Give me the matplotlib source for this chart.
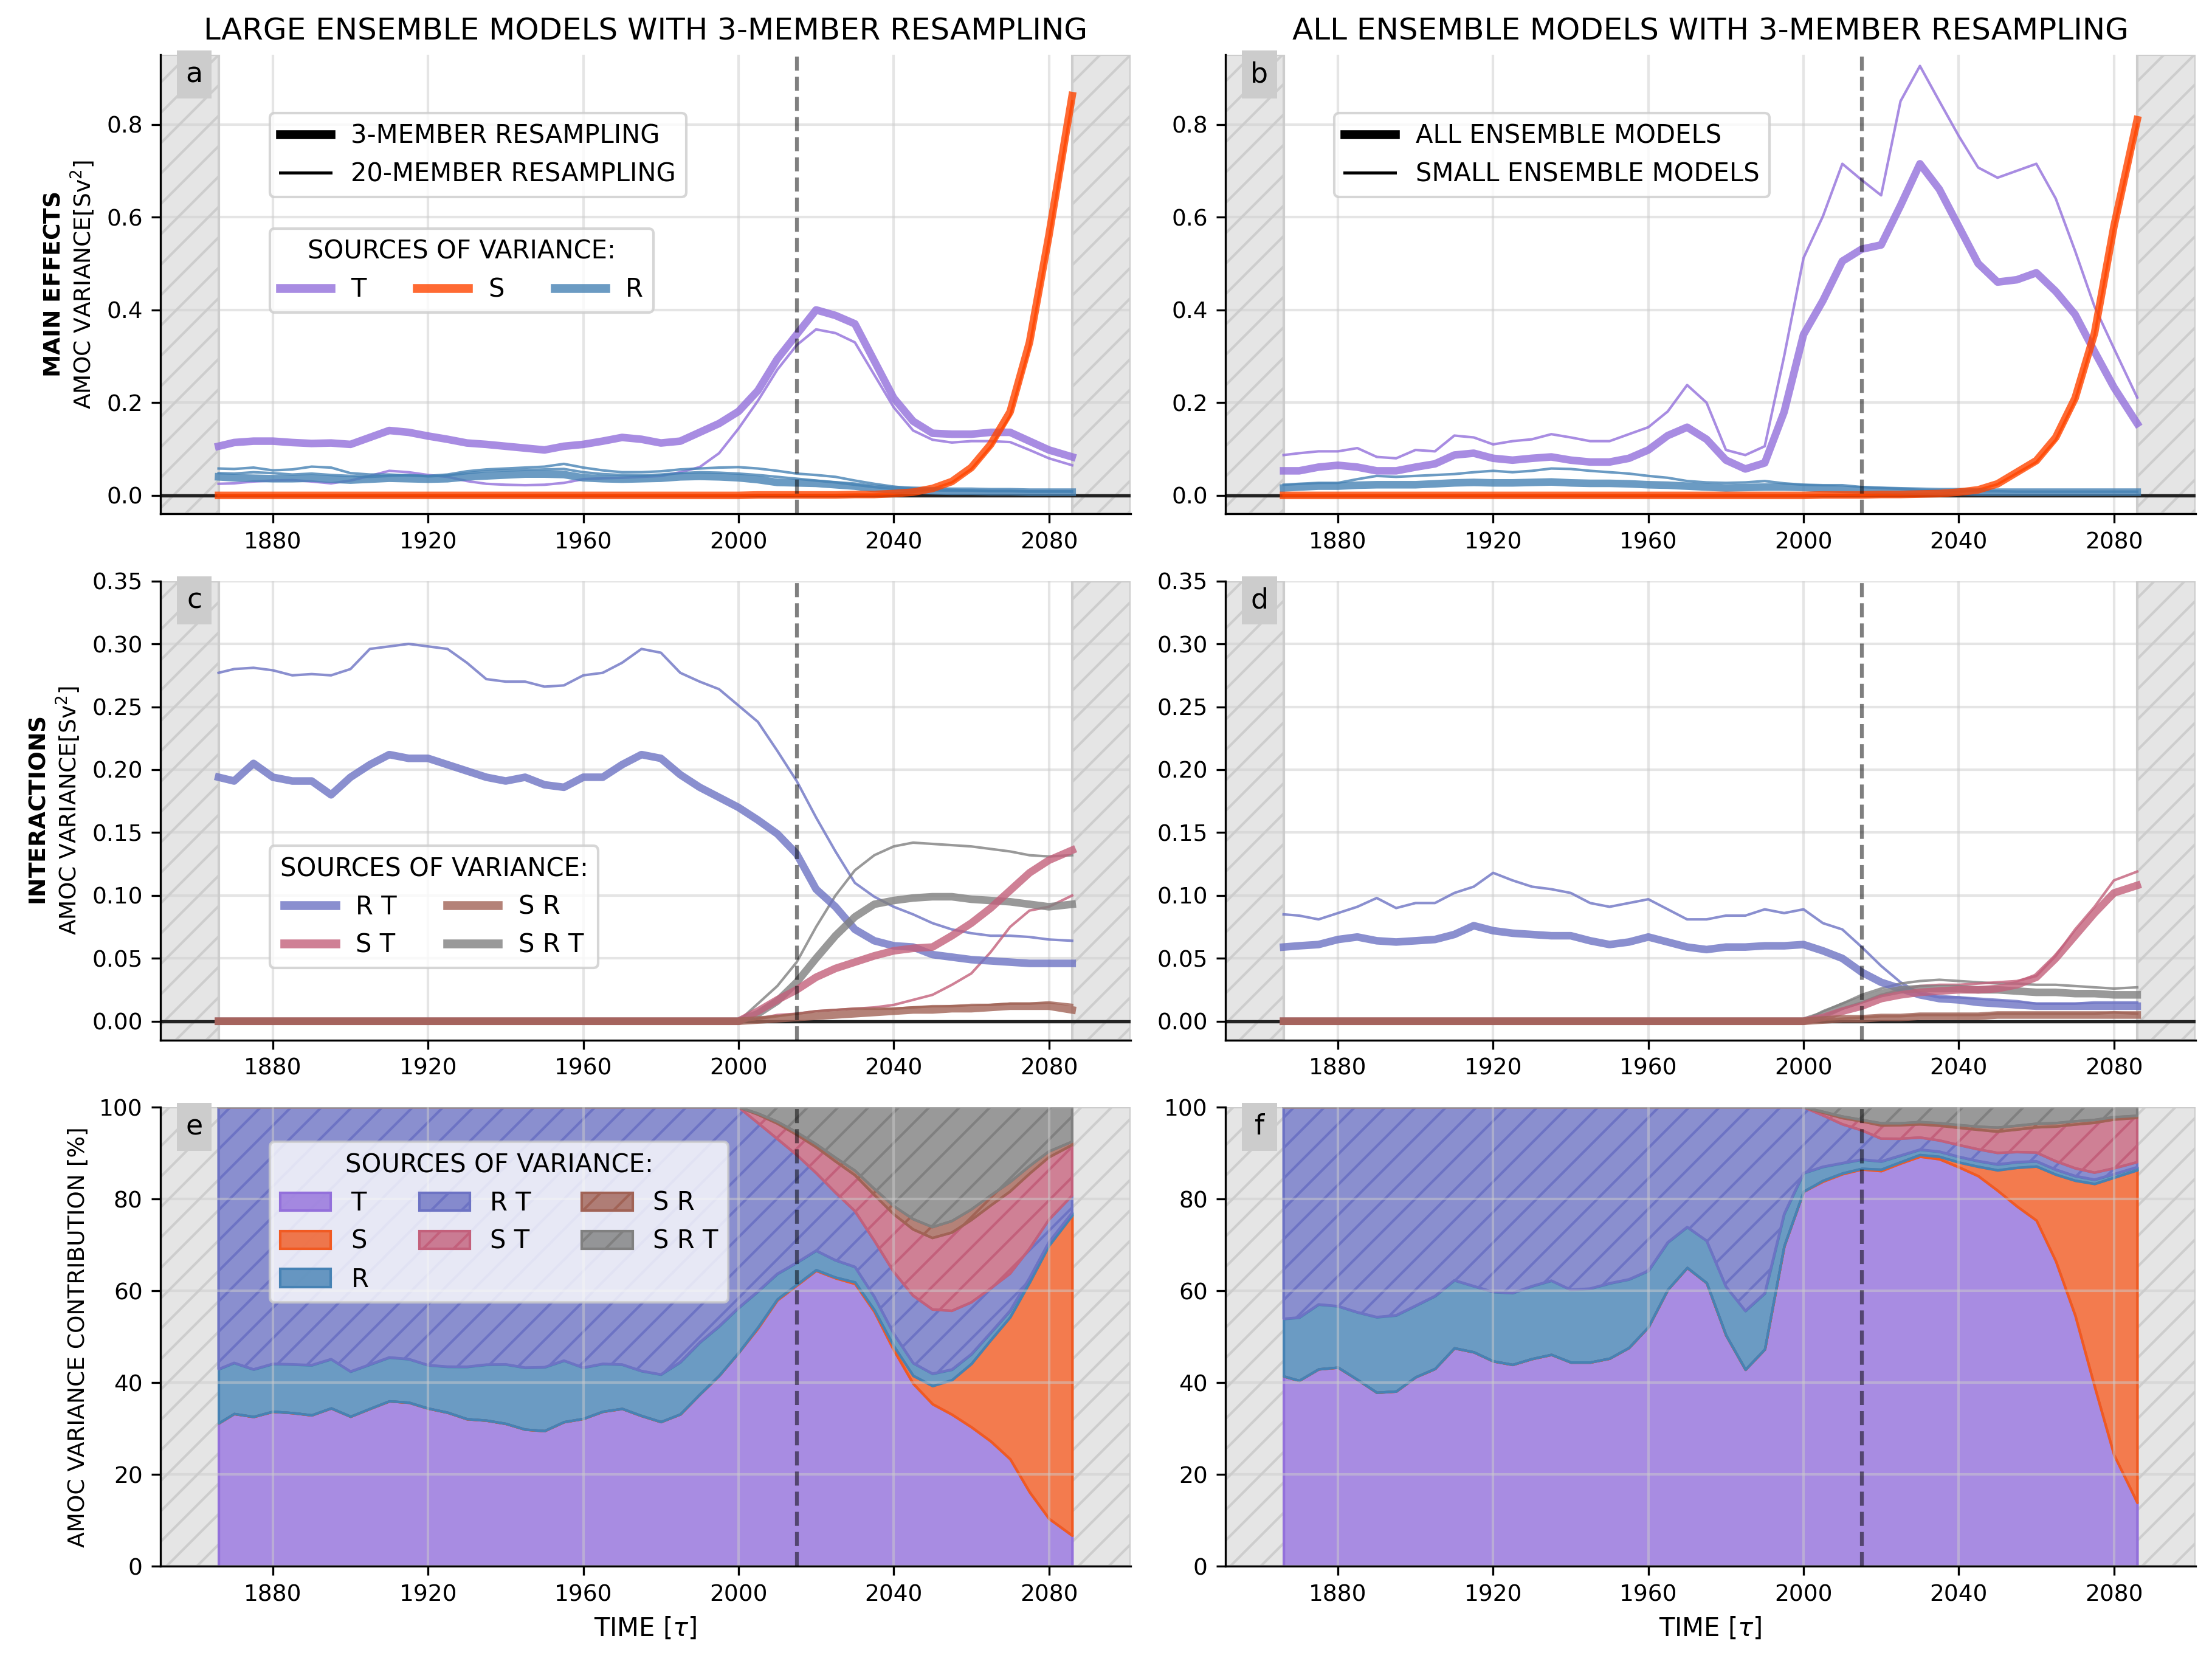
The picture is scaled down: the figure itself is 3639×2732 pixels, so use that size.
import numpy as np
import matplotlib.pyplot as plt
from matplotlib.colors import to_rgba
from matplotlib.lines import Line2D
from matplotlib.patches import Rectangle

# years (5-yr reading grid)
years = np.array([1866, 1870, 1875, 1880, 1885, 1890, 1895, 1900, 1905, 1910,
                  1915, 1920, 1925, 1930, 1935, 1940, 1945, 1950, 1955, 1960,
                  1965, 1970, 1975, 1980, 1985, 1990, 1995, 2000, 2005, 2010,
                  2015, 2020, 2025, 2030, 2035, 2040, 2045, 2050, 2055, 2060,
                  2065, 2070, 2075, 2080, 2086])

# ---- panel a : large ensembles, main effects (3-member thick / 20-member thin)
t_a3 = [0.106, 0.114, 0.117, 0.117, 0.114, 0.112, 0.113, 0.110, 0.125, 0.140,
        0.136, 0.128, 0.121, 0.113, 0.110, 0.106, 0.102, 0.098, 0.106, 0.110,
        0.117, 0.125, 0.121, 0.113, 0.117, 0.136, 0.155, 0.181, 0.226, 0.294,
        0.347, 0.400, 0.388, 0.370, 0.290, 0.210, 0.160, 0.134, 0.132, 0.132,
        0.136, 0.136, 0.117, 0.098, 0.083]
t_a20 = [0.025, 0.026, 0.030, 0.032, 0.033, 0.030, 0.026, 0.032, 0.042, 0.053,
         0.050, 0.044, 0.040, 0.031, 0.025, 0.023, 0.022, 0.023, 0.027, 0.035,
         0.037, 0.038, 0.040, 0.042, 0.050, 0.061, 0.091, 0.144, 0.204, 0.271,
         0.324, 0.358, 0.350, 0.330, 0.260, 0.190, 0.140, 0.120, 0.114, 0.117,
         0.117, 0.115, 0.098, 0.080, 0.065]
s_a3 = [0.0] * 28 + [0.001, 0.001, 0.001, 0.001, 0.001, 0.002, 0.002, 0.004, 0.007,
                     0.015, 0.030, 0.060, 0.110, 0.180, 0.330, 0.560, 0.862]
s_a20 = [0.0] * 28 + [0.001, 0.001, 0.001, 0.001, 0.001, 0.002, 0.002, 0.004, 0.007,
                      0.014, 0.028, 0.057, 0.105, 0.172, 0.320, 0.550, 0.850]
r_a3 = [0.040, 0.038, 0.037, 0.036, 0.036, 0.037, 0.035, 0.033, 0.035, 0.037,
        0.036, 0.035, 0.036, 0.040, 0.042, 0.044, 0.046, 0.046, 0.045, 0.038,
        0.036, 0.035, 0.036, 0.037, 0.040, 0.041, 0.040, 0.038, 0.034, 0.028,
        0.027, 0.026, 0.023, 0.020, 0.015, 0.012, 0.011, 0.010, 0.009, 0.009,
        0.008, 0.008, 0.007, 0.007, 0.007]
r_a20 = [0.058, 0.057, 0.060, 0.054, 0.056, 0.062, 0.060, 0.048, 0.045, 0.045,
         0.043, 0.042, 0.045, 0.052, 0.056, 0.058, 0.060, 0.062, 0.068, 0.060,
         0.054, 0.050, 0.050, 0.052, 0.056, 0.058, 0.060, 0.061, 0.058, 0.053,
         0.047, 0.044, 0.040, 0.032, 0.025, 0.019, 0.015, 0.013, 0.012, 0.011,
         0.010, 0.010, 0.009, 0.009, 0.009]
r_a20b = [0.048, 0.047, 0.050, 0.048, 0.045, 0.047, 0.044, 0.042, 0.040, 0.042,
          0.044, 0.041, 0.043, 0.048, 0.052, 0.054, 0.055, 0.056, 0.057, 0.050,
          0.046, 0.044, 0.043, 0.045, 0.048, 0.050, 0.049, 0.047, 0.044, 0.040,
          0.036, 0.032, 0.028, 0.023, 0.018, 0.014, 0.012, 0.011, 0.010, 0.010,
          0.009, 0.009, 0.008, 0.008, 0.008]

# ---- panel b : all ensembles (thick) vs small ensembles (thin)
t_b_all = [0.053, 0.053, 0.061, 0.065, 0.061, 0.053, 0.053, 0.061, 0.068, 0.087,
           0.091, 0.080, 0.076, 0.080, 0.083, 0.076, 0.072, 0.072, 0.080, 0.098,
           0.129, 0.147, 0.121, 0.076, 0.057, 0.070, 0.180, 0.347, 0.420, 0.505,
           0.531, 0.540, 0.625, 0.715, 0.660, 0.580, 0.500, 0.460, 0.465, 0.480,
           0.440, 0.390, 0.310, 0.233, 0.155]
t_b_small = [0.087, 0.091, 0.095, 0.095, 0.102, 0.083, 0.080, 0.098, 0.095, 0.129,
             0.125, 0.110, 0.117, 0.121, 0.132, 0.125, 0.117, 0.117, 0.132, 0.147,
             0.181, 0.238, 0.200, 0.098, 0.087, 0.106, 0.300, 0.512, 0.602, 0.715,
             0.680, 0.647, 0.850, 0.926, 0.850, 0.775, 0.707, 0.685, 0.700, 0.715,
             0.640, 0.527, 0.407, 0.317, 0.211]
s_b_all = [0.0] * 28 + [0.001, 0.001, 0.001, 0.002, 0.002, 0.003, 0.004, 0.007, 0.012,
                        0.025, 0.050, 0.075, 0.125, 0.210, 0.350, 0.580, 0.810]
s_b_small = [0.0] * 28 + [0.001, 0.001, 0.001, 0.002, 0.002, 0.003, 0.004, 0.007, 0.012,
                          0.024, 0.048, 0.072, 0.120, 0.205, 0.345, 0.575, 0.800]
r_b_all = [0.016, 0.018, 0.020, 0.020, 0.022, 0.023, 0.023, 0.023, 0.025, 0.027,
           0.028, 0.027, 0.027, 0.028, 0.029, 0.027, 0.026, 0.026, 0.025, 0.023,
           0.022, 0.020, 0.018, 0.016, 0.017, 0.018, 0.018, 0.017, 0.015, 0.013,
           0.012, 0.011, 0.010, 0.009, 0.008, 0.008, 0.007, 0.007, 0.007, 0.007,
           0.007, 0.007, 0.007, 0.007, 0.007]
r_b_small = [0.023, 0.025, 0.027, 0.027, 0.035, 0.042, 0.040, 0.042, 0.044, 0.046,
             0.050, 0.053, 0.050, 0.053, 0.058, 0.057, 0.053, 0.050, 0.047, 0.042,
             0.038, 0.031, 0.028, 0.027, 0.028, 0.031, 0.026, 0.023, 0.022, 0.022,
             0.018, 0.016, 0.014, 0.012, 0.011, 0.010, 0.009, 0.009, 0.008, 0.008,
             0.008, 0.008, 0.008, 0.008, 0.008]

# ---- panel c : large ensembles, interactions
rt_c3 = [0.194, 0.191, 0.205, 0.194, 0.191, 0.191, 0.180, 0.194, 0.204, 0.212,
         0.209, 0.209, 0.204, 0.199, 0.194, 0.191, 0.194, 0.188, 0.186, 0.194,
         0.194, 0.204, 0.212, 0.209, 0.196, 0.186, 0.178, 0.170, 0.160, 0.149,
         0.133, 0.105, 0.091, 0.073, 0.064, 0.060, 0.059, 0.053, 0.051, 0.049,
         0.048, 0.047, 0.046, 0.046, 0.046]
rt_c20 = [0.277, 0.280, 0.281, 0.279, 0.275, 0.276, 0.275, 0.280, 0.296, 0.298,
          0.300, 0.298, 0.296, 0.285, 0.272, 0.270, 0.270, 0.266, 0.267, 0.275,
          0.277, 0.285, 0.296, 0.293, 0.277, 0.270, 0.264, 0.251, 0.238, 0.215,
          0.191, 0.162, 0.135, 0.110, 0.099, 0.091, 0.085, 0.078, 0.073, 0.070,
          0.068, 0.068, 0.067, 0.065, 0.064]
st_c3 = [0.0] * 28 + [0.008, 0.017, 0.025, 0.035, 0.042, 0.047, 0.052, 0.056, 0.058,
                      0.059, 0.068, 0.078, 0.090, 0.104, 0.118, 0.128, 0.136]
st_c20 = [0.0] * 28 + [0.002, 0.005, 0.006, 0.008, 0.009, 0.010, 0.011, 0.013, 0.017,
                       0.021, 0.029, 0.038, 0.055, 0.075, 0.088, 0.091, 0.100]
sr_c3 = [0.0] * 28 + [0.001, 0.002, 0.003, 0.004, 0.005, 0.006, 0.007, 0.008, 0.009,
                      0.009, 0.010, 0.010, 0.011, 0.012, 0.012, 0.012, 0.009]
sr_c20 = [0.0] * 28 + [0.002, 0.004, 0.006, 0.008, 0.009, 0.010, 0.010, 0.010, 0.011,
                       0.012, 0.012, 0.013, 0.013, 0.014, 0.014, 0.015, 0.013]
srt_c3 = [0.0] * 28 + [0.006, 0.016, 0.031, 0.050, 0.068, 0.083, 0.093, 0.096, 0.098,
                       0.099, 0.099, 0.097, 0.096, 0.095, 0.093, 0.091, 0.093]
srt_c20 = [0.0] * 28 + [0.014, 0.028, 0.047, 0.075, 0.100, 0.120, 0.132, 0.139, 0.142,
                        0.141, 0.140, 0.139, 0.137, 0.135, 0.132, 0.131, 0.132]

# ---- panel d : all ensembles, interactions
rt_d_all = [0.059, 0.060, 0.061, 0.065, 0.067, 0.064, 0.063, 0.064, 0.065, 0.069,
            0.076, 0.072, 0.070, 0.069, 0.068, 0.068, 0.064, 0.061, 0.063, 0.067,
            0.063, 0.059, 0.057, 0.059, 0.059, 0.060, 0.060, 0.061, 0.056, 0.050,
            0.039, 0.031, 0.026, 0.021, 0.018, 0.017, 0.015, 0.014, 0.013, 0.012,
            0.012, 0.012, 0.012, 0.012, 0.012]
rt_d_small = [0.085, 0.084, 0.081, 0.086, 0.091, 0.098, 0.090, 0.094, 0.094, 0.102,
              0.107, 0.118, 0.112, 0.107, 0.105, 0.102, 0.094, 0.091, 0.094, 0.097,
              0.089, 0.081, 0.081, 0.084, 0.084, 0.089, 0.086, 0.089, 0.078, 0.073,
              0.059, 0.044, 0.031, 0.022, 0.019, 0.019, 0.018, 0.017, 0.016, 0.014,
              0.014, 0.014, 0.015, 0.015, 0.015]
st_d_all = [0.0] * 28 + [0.003, 0.008, 0.012, 0.018, 0.021, 0.023, 0.024, 0.025, 0.025,
                         0.026, 0.029, 0.035, 0.050, 0.068, 0.086, 0.102, 0.108]
st_d_small = [0.0] * 28 + [0.004, 0.010, 0.015, 0.021, 0.025, 0.028, 0.029, 0.029, 0.030,
                           0.031, 0.032, 0.036, 0.052, 0.073, 0.091, 0.112, 0.119]
sr_d_all = [0.0] * 28 + [0.001, 0.002, 0.002, 0.003, 0.003, 0.004, 0.004, 0.004, 0.004,
                         0.005, 0.005, 0.005, 0.005, 0.005, 0.005, 0.005, 0.005]
sr_d_small = [0.0] * 28 + [0.001, 0.002, 0.003, 0.004, 0.004, 0.005, 0.005, 0.005, 0.005,
                           0.006, 0.006, 0.006, 0.006, 0.006, 0.006, 0.007, 0.006]
srt_d_all = [0.0] * 28 + [0.005, 0.012, 0.017, 0.022, 0.025, 0.026, 0.026, 0.026, 0.025,
                          0.025, 0.024, 0.023, 0.023, 0.022, 0.022, 0.021, 0.021]
srt_d_small = [0.0] * 28 + [0.008, 0.014, 0.021, 0.026, 0.030, 0.032, 0.033, 0.032, 0.031,
                            0.030, 0.030, 0.029, 0.029, 0.028, 0.027, 0.026, 0.027]

# colours per source of variance
col = {'T': '#9370db', 'S': '#ff4500', 'R': '#4682b4', 'RT': '#6d73c4',
       'ST': '#c3607b', 'SR': '#a16356', 'SRT': '#808080'}
fill_col = dict(col, S='#f15a22')
labels = {'T': 'T', 'S': 'S', 'R': 'R', 'RT': 'R T', 'ST': 'S T',
          'SR': 'S R', 'SRT': 'S R T'}

x_lo, x_hi = 1851, 2101
fs_tick = 9


def decorate(ax, letter, zero_line=True):
    ax.set_xlim(x_lo, x_hi)
    ax.axvspan(x_lo, years[0], facecolor='#e5e5e5', edgecolor='#cdcdcd',
               hatch='//', lw=1, zorder=0.5)
    ax.axvspan(years[-1], x_hi, facecolor='#e5e5e5', edgecolor='#cdcdcd',
               hatch='//', lw=1, zorder=0.5)
    ax.axvline(2015, color='k', alpha=0.5, ls='--', lw=1.5, zorder=3)
    if zero_line:
        ax.axhline(0, color='#222222', lw=1.3, zorder=1.6)
    ax.grid(color='#cccccc', alpha=0.5, lw=1)
    ax.set_xticks([1880, 1920, 1960, 2000, 2040, 2080])
    ax.tick_params(labelsize=fs_tick)
    for s in ['top', 'right']:
        ax.spines[s].set_visible(False)
    ax.add_patch(Rectangle((0.017, 0.905), 0.036, 0.105, transform=ax.transAxes,
                           facecolor='#cccccc', edgecolor='none', clip_on=False, zorder=5))
    ax.text(0.035, 0.957, letter, transform=ax.transAxes, ha='center', va='center',
            fontsize=11, zorder=6)


def draw_pair(ax, key, thick, thin, extra=None):
    ax.plot(years, thin, color=col[key], lw=1.0, alpha=0.8, zorder=2)
    if extra is not None:
        ax.plot(years, extra, color=col[key], lw=1.0, alpha=0.8, zorder=2)
    ax.plot(years, thick, color=col[key], lw=3.0, alpha=0.8, zorder=2.2)


def draw_stack(ax, parts):
    total = np.sum([np.array(v) for _, v in parts], axis=0)
    bottom = np.zeros(len(years))
    handles = []
    for key, v in parts:
        top = bottom + np.array(v) / total * 100
        h = ax.fill_between(years, bottom, top, facecolor=to_rgba(fill_col[key], 0.8),
                            edgecolor=fill_col[key], lw=1.0,
                            hatch='//' if len(key) > 1 else None,
                            label=labels[key], zorder=1)
        handles.append(h)
        bottom = top
    return handles


fig, axes = plt.subplots(3, 2, figsize=(12.13, 9.1067))
fig.subplots_adjust(left=0.0725, right=0.9925, bottom=0.057, top=0.967,
                    wspace=0.098, hspace=0.146)
ax_a, ax_b = axes[0]
ax_c, ax_d = axes[1]
ax_e, ax_f = axes[2]

# ---- a
draw_pair(ax_a, 'T', t_a3, t_a20)
draw_pair(ax_a, 'R', r_a3, r_a20, r_a20b)
draw_pair(ax_a, 'S', s_a3, s_a20)
decorate(ax_a, 'a')
ax_a.set_ylim(-0.04, 0.95)
ax_a.set_yticks([0.0, 0.2, 0.4, 0.6, 0.8])
ax_a.set_title('LARGE ENSEMBLE MODELS WITH 3-MEMBER RESAMPLING', fontsize=12)
ax_a.set_ylabel(r'$\bf{MAIN\ EFFECTS}$' + '\n' + r'AMOC VARIANCE[Sv$^2$]', fontsize=9)
leg1 = ax_a.legend(handles=[Line2D([], [], color='k', lw=3.5, label='3-MEMBER RESAMPLING'),
                            Line2D([], [], color='k', lw=1.2, label='20-MEMBER RESAMPLING')],
                   loc='upper left', bbox_to_anchor=(0.113, 0.873), borderaxespad=0,
                   fontsize=10)
ax_a.add_artist(leg1)
ax_a.legend(handles=[Line2D([], [], color=col[k], lw=3.5, alpha=0.8, label=labels[k])
                     for k in ['T', 'S', 'R']],
            title='SOURCES OF VARIANCE:', ncol=3, loc='upper left',
            bbox_to_anchor=(0.113, 0.622), borderaxespad=0, fontsize=10, title_fontsize=10)

# ---- b
draw_pair(ax_b, 'T', t_b_all, t_b_small)
draw_pair(ax_b, 'R', r_b_all, r_b_small)
draw_pair(ax_b, 'S', s_b_all, s_b_small)
decorate(ax_b, 'b')
ax_b.set_ylim(-0.04, 0.95)
ax_b.set_yticks([0.0, 0.2, 0.4, 0.6, 0.8])
ax_b.set_title('ALL ENSEMBLE MODELS WITH 3-MEMBER RESAMPLING', fontsize=12)
ax_b.legend(handles=[Line2D([], [], color='k', lw=3.5, label='ALL ENSEMBLE MODELS'),
                     Line2D([], [], color='k', lw=1.2, label='SMALL ENSEMBLE MODELS')],
            loc='upper left', bbox_to_anchor=(0.1125, 0.873), borderaxespad=0, fontsize=10)

# ---- c
draw_pair(ax_c, 'RT', rt_c3, rt_c20)
draw_pair(ax_c, 'SRT', srt_c3, srt_c20)
draw_pair(ax_c, 'ST', st_c3, st_c20)
draw_pair(ax_c, 'SR', sr_c3, sr_c20)
decorate(ax_c, 'c')
ax_c.set_ylim(-0.015, 0.35)
ax_c.set_yticks(np.arange(0, 0.351, 0.05))
ax_c.set_ylabel(r'$\bf{INTERACTIONS}$' + '\n' + r'AMOC VARIANCE[Sv$^2$]', fontsize=9)
ax_c.legend(handles=[Line2D([], [], color=col[k], lw=3.5, alpha=0.8, label=labels[k])
                     for k in ['RT', 'ST', 'SR', 'SRT']],
            title='SOURCES OF VARIANCE:', ncol=2, loc='upper left',
            bbox_to_anchor=(0.113, 0.423), borderaxespad=0, fontsize=10, title_fontsize=10)

# ---- d
draw_pair(ax_d, 'RT', rt_d_all, rt_d_small)
draw_pair(ax_d, 'SRT', srt_d_all, srt_d_small)
draw_pair(ax_d, 'ST', st_d_all, st_d_small)
draw_pair(ax_d, 'SR', sr_d_all, sr_d_small)
decorate(ax_d, 'd')
ax_d.set_ylim(-0.015, 0.35)
ax_d.set_yticks(np.arange(0, 0.351, 0.05))

# ---- e / f : percentage contributions from the thick series
order = ['T', 'S', 'R', 'RT', 'ST', 'SR', 'SRT']
parts_e = list(zip(order, [t_a3, s_a3, r_a3, rt_c3, st_c3, sr_c3, srt_c3]))
parts_f = list(zip(order, [t_b_all, s_b_all, r_b_all, rt_d_all, st_d_all, sr_d_all, srt_d_all]))
h_e = draw_stack(ax_e, parts_e)
draw_stack(ax_f, parts_f)
for ax, letter in [(ax_e, 'e'), (ax_f, 'f')]:
    decorate(ax, letter, zero_line=False)
    ax.set_ylim(0, 100)
    ax.set_yticks([0, 20, 40, 60, 80, 100])
    ax.set_xlabel(r'TIME [$\tau$]', fontsize=10)
ax_e.set_ylabel('AMOC VARIANCE CONTRIBUTION [%]', fontsize=9)
ax_e.legend(handles=h_e, title='SOURCES OF VARIANCE:', ncol=3, loc='upper left',
            bbox_to_anchor=(0.113, 0.924), borderaxespad=0, fontsize=10, title_fontsize=10)

plt.savefig('out.png', dpi=300)
